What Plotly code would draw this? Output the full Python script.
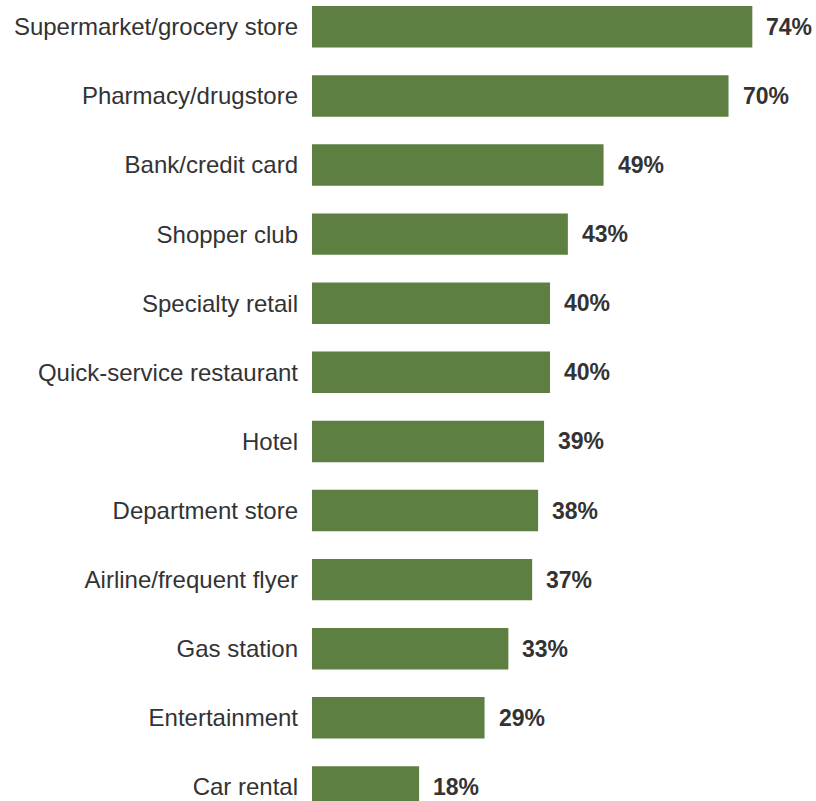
import plotly.graph_objects as go

categories = ["Supermarket/grocery store", "Pharmacy/drugstore", "Bank/credit card",
              "Shopper club", "Specialty retail", "Quick-service restaurant", "Hotel",
              "Department store", "Airline/frequent flyer", "Gas station",
              "Entertainment", "Car rental"]
values = [74, 70, 49, 43, 40, 40, 39, 38, 37, 33, 29, 18]
labels = [f"{v}%" for v in values]

fig = go.Figure(go.Bar(
    x=values, y=categories, orientation="h",
    marker=dict(color="#5d8042", line=dict(width=0)),
    width=0.6, hoverinfo="skip",
))

for c, v, t in zip(categories, values, labels):
    fig.add_annotation(x=v, y=c, text=f"<b>{t}</b>", showarrow=False,
                       xanchor="left", xshift=12, yshift=0,
                       font=dict(family="Liberation Sans, Arial", size=23, color="#333333"))

fig.update_layout(
    width=816, height=801,
    margin=dict(l=312, r=0, t=0, b=0),
    paper_bgcolor="white", plot_bgcolor="white",
    showlegend=False,
    font=dict(family="Liberation Sans, Arial", size=24, color="#333333"),
    xaxis=dict(range=[0, 84.7], visible=False, fixedrange=True),
    yaxis=dict(categoryorder="array", categoryarray=categories,
               range=[11.204, -0.388], showgrid=False, zeroline=False,
               showline=False, ticks="", ticklabelstandoff=13,
               tickfont=dict(family="Liberation Sans, Arial", size=24, color="#333333")),
)

fig.write_html("out.html")
